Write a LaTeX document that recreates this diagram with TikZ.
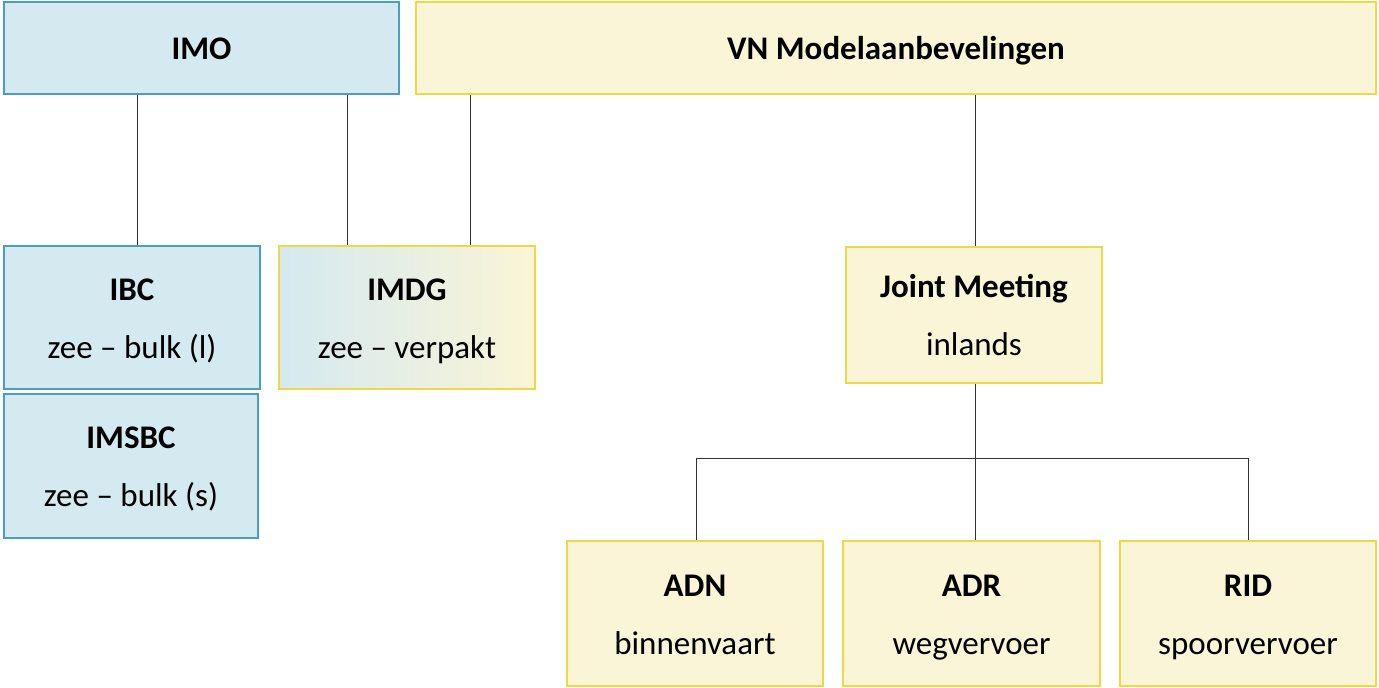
\documentclass[tikz,border=0pt]{standalone}
\usepackage{fontspec}
\setmainfont{Carlito}
\begin{document}
\begin{tikzpicture}[x=1pt,y=-1pt,
  box/.style={draw, line width=1.5pt, inner sep=0pt, align=center, font=\fontsize{33}{58}\selectfont},
  blue/.style={box, draw=blueB, fill=blueF},
  yel/.style={box, draw=yelB, fill=yelF},
  ln/.style={draw=black!80, line width=0.6pt}]
\definecolor{blueF}{HTML}{D5E9F0}
\definecolor{blueB}{HTML}{4A9FC0}
\definecolor{yelF}{HTML}{FAF5D6}
\definecolor{yelB}{HTML}{EDD84A}
\useasboundingbox (0,0) rectangle (1379,688);
\node[blue, minimum width=395, minimum height=92] (imo) at (201.5,48) {\strut\textbf{IMO}};
\node[yel, minimum width=960, minimum height=92] (vn) at (896,48) {\strut\textbf{VN Modelaanbevelingen}};
\node[blue, minimum width=256, minimum height=143] (ibc) at (132,317.5) {\strut\textbf{IBC}\\\strut zee -- bulk (l)};
\node[blue, minimum width=254, minimum height=144] (imsbc) at (131,466) {\strut\textbf{IMSBC}\\\strut zee -- bulk (s)};
\shade[left color=blueF, right color=yelF, middle color=yelF!50!blueF] (279,246) rectangle (535,389);
\node[box, draw=yelB, minimum width=256, minimum height=143] (imdg) at (407,317.5) {\strut\textbf{IMDG}\\\strut zee -- verpakt};
\node[yel, minimum width=256, minimum height=136] (jm) at (974,315) {\strut\textbf{Joint Meeting}\\\strut inlands};
\node[yel, minimum width=256, minimum height=145] (adn) at (695,613.5) {\strut\textbf{ADN}\\\strut binnenvaart};
\node[yel, minimum width=257, minimum height=145] (adr) at (971.5,613.5) {\strut\textbf{ADR}\\\strut wegvervoer};
\node[yel, minimum width=256, minimum height=145] (rid) at (1248,613.5) {\strut\textbf{RID}\\\strut spoorvervoer};
\coordinate (hl) at (696,458);
\coordinate (hr) at (1248,458);
\draw[ln] (imo.south -| 137,0) -- (ibc.north -| 137,0);
\draw[ln] (imo.south -| 347,0) -- (imdg.north -| 347,0);
\draw[ln] (vn.south -| 470,0) -- (imdg.north -| 470,0);
\draw[ln] (vn.south -| 975,0) -- (jm.north -| 975,0);
\draw[ln] (jm.south -| 975,0) -- (adr.north -| 975,0);
\draw[ln] (hl) -- (hr);
\draw[ln] (hl) -- (adn.north -| hl);
\draw[ln] (hr) -- (rid.north -| hr);
\end{tikzpicture}
\end{document}
